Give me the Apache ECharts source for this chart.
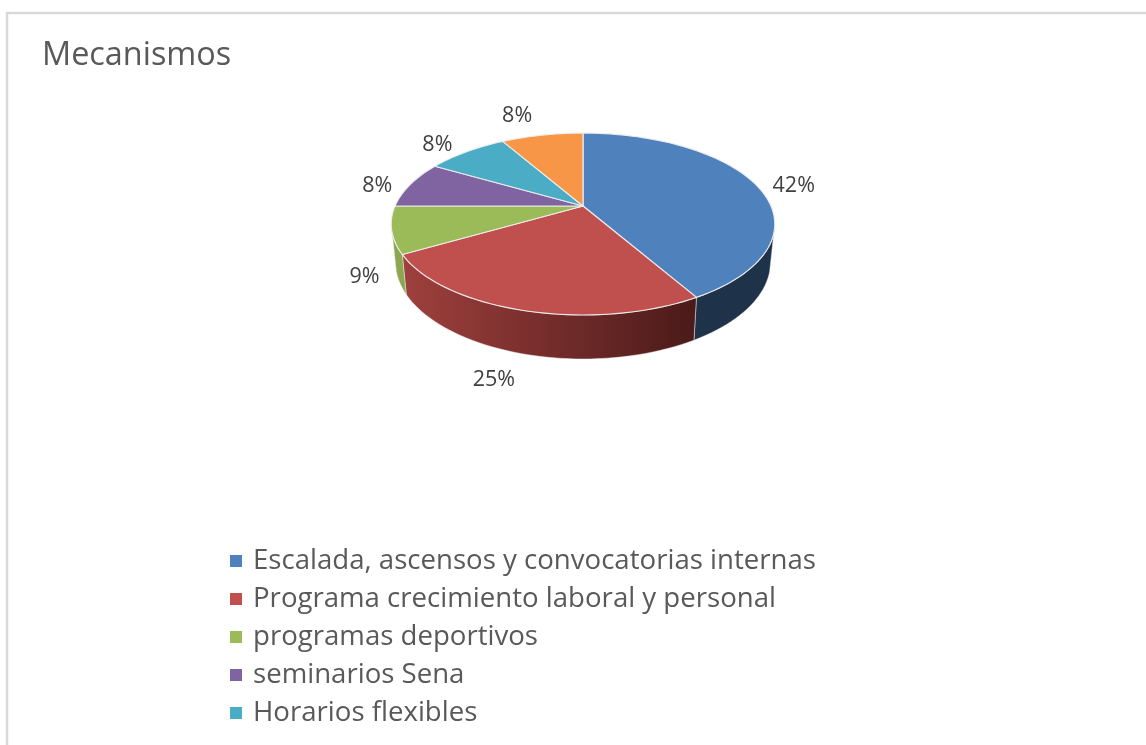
<!DOCTYPE html>
<html>
<head>
<meta charset="utf-8">
<style>html,body{margin:0;padding:0;background:#fff;overflow:hidden}#c{width:1146px;height:745px}</style>
<script src="https://cdn.jsdelivr.net/npm/echarts@6/dist/echarts.min.js"></script>
</head>
<body>
<div id="c"></div>
<script>
const chartTitle = 'Mecanismos';
const categories = ['Escalada, ascensos y convocatorias internas','Programa crecimiento laboral y personal','programas deportivos','seminarios Sena','Horarios flexibles','Otros'];
const legendCategories = categories.slice(0, 5);
const values = [5, 3, 1, 1, 1, 1];
const percentLabels = ['42%','25%','9%','8%','8%','8%'];
const topColors = ['#4f81bd','#c0504d','#9bbb59','#8064a2','#4bacc6','#f79646'];
const wallFrom = ['#1e3249','#9f403d','#8ba850','#6a5387','#3d8fa5','#cf7b38'];
const wallTo = ['#1e3249','#4a1a19','#8ba850','#6a5387','#3d8fa5','#cf7b38'];

// projection of the tilted disc
const cx = 583, cy = 206, rx = 188, ry = 87.4, persp = 0.198;
const labelOffsets = [[38,1],[-29,69],[-27,47],[-33,1],[-29,-7],[-25,-19]];
const FONT = '"Open Sans"';
// where the side wall leaves the top rim, and where it reaches the floor ring
const wallTopStart = 101.4, wallTopEnd = 258.6, wallFloorStart = 107, wallFloorEnd = 253;

function rim(deg) {
  const t = deg * Math.PI / 180, x = Math.sin(t), y = -Math.cos(t), d = 1 - persp * y;
  return [cx + rx * x / d, cy + ry * y / d];
}
function floor(p) {
  const v = p[1] - cy;
  return [cx + (p[0] - cx) * 0.978, cy + 36.8 + v * 1.066];
}
function arc(a, b) {
  const n = Math.max(2, Math.ceil(Math.abs(b - a) / 2)), out = [];
  for (let i = 0; i <= n; i++) out.push(a + (b - a) * i / n);
  return out;
}
const total = values.reduce((s, v) => s + v, 0);
let run = 0;
const spans = values.map(v => { const a = run; run += v; return [a / total * 360, run / total * 360]; });

function sliceItem(i) {
  return function () {
    const a = spans[i][0], b = spans[i][1], kids = [];
    const ta = Math.max(a, wallTopStart), tb = Math.min(b, wallTopEnd);
    const fa = Math.max(a, wallFloorStart), fb = Math.min(b, wallFloorEnd);
    if (tb > ta && fb > fa) {
      const top = arc(ta, tb).map(rim), bot = arc(fa, fb).map(rim).map(floor).reverse();
      kids.push({
        type: 'polygon', z2: 1,
        shape: { points: top.concat(bot) },
        style: {
          fill: new echarts.graphic.LinearGradient(0, 0, 1, 0, [
            { offset: 0, color: wallFrom[i] }, { offset: 1, color: wallTo[i] }]),
          stroke: 'rgba(235,235,235,0.6)', lineWidth: 0.8, lineJoin: 'round'
        }
      });
    }
    kids.push({
      type: 'polygon', z2: 2,
      shape: { points: [[cx, cy]].concat(arc(a, b).map(rim)) },
      style: { fill: topColors[i], stroke: 'rgba(238,238,238,0.95)', lineWidth: 1.2, lineJoin: 'round' }
    });
    const m = rim((a + b) / 2), o = labelOffsets[i];
    kids.push({
      type: 'text', z2: 3,
      style: {
        text: percentLabels[i], x: m[0] + o[0], y: m[1] + o[1],
        align: 'center', verticalAlign: 'middle',
        font: '21.5px ' + FONT, fill: '#404040'
      }
    });
    return { type: 'group', children: kids };
  };
}

const chart = echarts.init(document.getElementById('c'), null, { renderer: 'canvas' });
chart.setOption({
  animation: false,
  backgroundColor: '#ffffff',
  title: {
    text: chartTitle, left: 37, top: 35,
    textStyle: { fontFamily: FONT, fontSize: 32.4, fontWeight: 'normal', color: '#595959' }
  },
  legend: {
    data: legendCategories, orient: 'vertical', left: 225, top: 541,
    icon: 'rect', itemWidth: 12, itemHeight: 12, itemGap: 8, selectedMode: false,
    textStyle: { fontFamily: FONT, fontSize: 27.6, color: '#595959', lineHeight: 30, padding: [0, 0, 0, 6] }
  },
  graphic: [
    { type: 'polyline', z: -1, shape: { points: [[7, 745], [7, 13], [1146, 13]] },
      style: { fill: 'none', stroke: '#d9d9d9', lineWidth: 2.5 } }
  ],
  series: values.map((v, i) => ({
    type: 'custom', name: categories[i], coordinateSystem: 'none',
    itemStyle: { color: topColors[i] }, silent: true,
    data: [[v]], renderItem: sliceItem(i)
  }))
});
</script>
</body>
</html>
